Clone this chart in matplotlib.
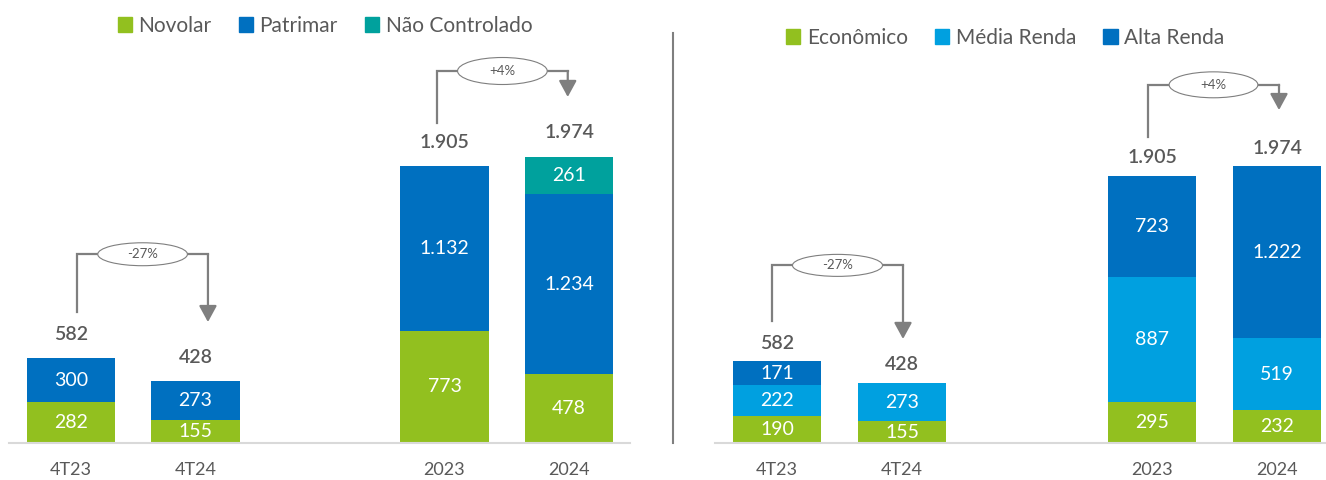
import matplotlib.pyplot as plt
from matplotlib.patches import Ellipse, Patch
from matplotlib.lines import Line2D

plt.rcParams['font.family'] = ['Lato', 'DejaVu Sans']

categories = ['4T23', '4T24', '2023', '2024']
positions = [0, 1, 3, 4]

# painel esquerdo - por empresa
novolar = [282, 155, 773, 478]
patrimar = [300, 273, 1132, 1234]
nao_controlado = [0, 0, 0, 261]
totals_left = [582, 428, 1905, 1974]

# painel direito - por segmento
economico = [190, 155, 295, 232]
media_renda = [222, 273, 887, 519]
alta_renda = [171, 0, 723, 1222]
totals_right = [582, 428, 1905, 1974]

growth = ['-27%', '+4%']

GREEN = '#92C01F'
BLUE = '#0070C0'
TEAL = '#00A19D'
LBLUE = '#00A0E0'
GRAY_TXT = '#595959'
GRAY_LN = '#7F7F7F'


def fmt(v):
    return f"{v:,}".replace(",", ".")


def stacked(ax, series, colors, totals, total_off):
    bottoms = [0] * len(positions)
    for vals, c in zip(series, colors):
        ax.bar(positions, vals, bottom=bottoms, width=0.71, color=c, linewidth=0)
        for x, v, b in zip(positions, vals, bottoms):
            if v > 0:
                ax.text(x, b + v / 2, fmt(v), ha='center', va='center',
                        color='white', fontsize=14)
        bottoms = [b + v for b, v in zip(bottoms, vals)]
    for x, t in zip(positions, totals):
        ax.annotate(fmt(t), (x, t), xytext=(0, total_off), textcoords='offset points',
                    ha='center', va='center', fontsize=14, fontweight='semibold',
                    color=GRAY_TXT)


def bracket(ax, x0, x1, y0, ylev, ytip, label, ew, eh):
    ax.plot([x0, x0, x1], [y0, ylev, ylev], color=GRAY_LN, lw=1.6,
            solid_joinstyle='miter', zorder=3)
    ax.annotate('', xy=(x1, ytip), xytext=(x1, ylev),
                arrowprops=dict(arrowstyle='-|>,head_length=0.55,head_width=0.3',
                                mutation_scale=18, color=GRAY_LN, lw=1.6,
                                shrinkA=0, shrinkB=0), zorder=3)
    cx = (x0 + x1) / 2
    ax.add_patch(Ellipse((cx, ylev), ew, eh, facecolor='white',
                         edgecolor=GRAY_LN, lw=0.8, zorder=4))
    ax.text(cx, ylev, label, ha='center', va='center', fontsize=9.5,
            color=GRAY_TXT, zorder=5)


def style(ax, xlim, ylim):
    ax.set_xlim(*xlim)
    ax.set_ylim(*ylim)
    for s in ['top', 'left', 'right']:
        ax.spines[s].set_visible(False)
    ax.spines['bottom'].set_color('#D9D9D9')
    ax.spines['bottom'].set_linewidth(1.5)
    ax.set_yticks([])
    ax.set_xticks(positions)
    ax.set_xticklabels(categories, fontsize=13, color=GRAY_TXT)
    ax.tick_params(axis='x', length=0, pad=14)


W, H = 1326, 480
fig = plt.figure(figsize=(W / 100, H / 100), dpi=100)

ax1 = fig.add_axes([9 / W, 37 / H, (630 - 9) / W, 443 / H])
stacked(ax1, [novolar, patrimar, nao_controlado], [GREEN, BLUE, TEAL], totals_left, 17)
style(ax1, (-0.498, 4.49), (0, 3051))
bracket(ax1, 0.05, 1.1, 902, 1300, 833, growth[0], 0.72, 158)
bracket(ax1, 2.94, 3.99, 2204, 2562, 2383, growth[1], 0.72, 186)

ax2 = fig.add_axes([715 / W, 37 / H, (1326 - 715) / W, 443 / H])
stacked(ax2, [economico, media_renda, alta_renda], [GREEN, LBLUE, BLUE], totals_right, 13)
style(ax2, (-0.496, 4.392), (0, 3160))
bracket(ax2, -0.04, 1.008, 870, 1267, 742, growth[0], 0.72, 157)
bracket(ax2, 2.968, 4.016, 2183, 2555, 2375, growth[1], 0.71, 185)

fig.add_artist(Line2D([673 / W, 673 / W], [1 - 33 / H, 37 / H], color=GRAY_LN, lw=1.5))

leg_kw = dict(ncol=3, frameon=False, fontsize=15, handlelength=0.7, handleheight=0.7,
              handletextpad=0.3, columnspacing=1.3, labelcolor=GRAY_TXT, loc='center')
fig.legend([Patch(color=GREEN), Patch(color=BLUE), Patch(color=TEAL)],
           ['Novolar', 'Patrimar', 'Não Controlado'],
           bbox_to_anchor=(325 / W, 1 - 26 / H), **leg_kw)
fig.legend([Patch(color=GREEN), Patch(color=LBLUE), Patch(color=BLUE)],
           ['Econômico', 'Média Renda', 'Alta Renda'],
           bbox_to_anchor=(1005 / W, 1 - 38 / H), **leg_kw)

fig.savefig('out.png', dpi=100)
